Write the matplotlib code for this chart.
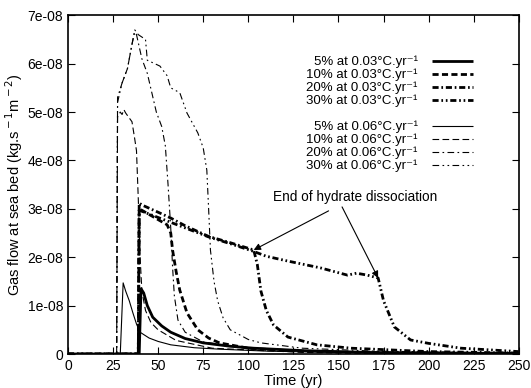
import numpy as np
import matplotlib
matplotlib.use('Agg')
import matplotlib.pyplot as plt
from matplotlib.lines import Line2D
from matplotlib.ticker import FuncFormatter

plt.rcParams['font.family'] = ['Liberation Sans', 'DejaVu Sans']

# values, flow in units of 1e-08 kg.s-1.m-2
t5_003 = [0, 39.5, 40.5, 42, 44, 47, 52, 57, 65, 75, 90, 103, 130, 170, 250]
y5_003 = [0, 0, 1.35, 1.26, 1.0, 0.76, 0.58, 0.45, 0.32, 0.23, 0.16, 0.12, 0.07, 0.03, 0.01]

t10_003 = [0, 39, 39.5, 41, 48, 55, 57, 58, 60, 62, 66, 72, 78, 84, 100, 130, 180, 250]
y10_003 = [0, 0, 3.0, 2.97, 2.82, 2.67, 2.5, 2.15, 1.7, 1.32, 0.85, 0.5, 0.33, 0.23, 0.12, 0.05, 0.02, 0.01]

t20_003 = [0, 39, 39.5, 41, 50, 57, 65, 78, 90, 103, 105, 107, 110, 114, 122, 138, 157, 200, 250]
y20_003 = [0, 0, 3.12, 3.08, 2.93, 2.81, 2.65, 2.43, 2.3, 2.15, 1.85, 1.3, 0.9, 0.6, 0.35, 0.19, 0.12, 0.05, 0.02]

t30_003 = [0, 39, 39.5, 41, 55, 78, 90, 103, 110, 122, 140, 155, 160, 166, 172, 175, 181, 190, 200, 218, 250]
y30_003 = [0, 0, 2.97, 2.95, 2.75, 2.42, 2.28, 2.12, 2.02, 1.92, 1.78, 1.63, 1.67, 1.63, 1.57, 1.1, 0.56, 0.29, 0.22, 0.12, 0.05]

t5_006 = [0, 29, 30.6, 32, 34, 36, 38, 40, 45, 50, 57, 70, 84, 110, 150, 250]
y5_006 = [0, 0, 1.47, 1.3, 1.1, 0.85, 0.62, 0.45, 0.33, 0.26, 0.19, 0.13, 0.1, 0.06, 0.03, 0.01]

t10_006 = [0, 27, 27.5, 29, 30, 31, 32, 35.5, 37, 38, 39, 40, 41, 43, 46, 50, 60, 80, 120, 250]
y10_006 = [0, 0, 4.9, 5.0, 4.95, 5.05, 4.98, 4.8, 4.45, 4.2, 3.2, 2.0, 1.3, 0.9, 0.65, 0.5, 0.28, 0.12, 0.05, 0.01]

t20_006 = [0, 27, 27.5, 30, 33, 35.5, 37, 38, 41, 44, 49, 52, 54, 55.5, 57, 58, 59, 61, 65, 75, 100, 150, 250]
y20_006 = [0, 0, 5.3, 5.6, 5.9, 6.4, 6.65, 6.6, 6.1, 5.8, 5.0, 4.7, 4.3, 3.5, 2.6, 1.8, 1.2, 0.7, 0.45, 0.25, 0.12, 0.05, 0.02]

t30_006 = [0, 27, 27.5, 30, 33, 35.5, 37, 39, 41, 43, 44, 47, 51, 55, 57, 62, 66, 72, 75, 77, 78, 79, 81, 83, 86, 90, 100, 107, 130, 170, 250]
y30_006 = [0, 0, 5.2, 5.6, 5.9, 6.4, 6.7, 6.6, 6.55, 6.5, 6.07, 6.02, 5.95, 5.75, 5.5, 5.4, 4.98, 4.57, 4.26, 3.8, 3.0, 2.15, 1.5, 1.1, 0.75, 0.5, 0.3, 0.23, 0.12, 0.06, 0.02]

labels = ['5% at 0.03', '10% at 0.03', '20% at 0.03', '30% at 0.03',
          '5% at 0.06', '10% at 0.06', '20% at 0.06', '30% at 0.06']

solid = (0, ())
dash = (0, (2.2, 1.2))
dashdot = (0, (2.2, 1.0, 0.6, 1.0))
dashdotdot = (0, (2.2, 1.0, 0.6, 1.0, 0.6, 1.0))

series = [
    (t5_003, y5_003, solid, 2.0),
    (t10_003, y10_003, dash, 2.0),
    (t20_003, y20_003, dashdot, 2.0),
    (t30_003, y30_003, dashdotdot, 2.0),
    (t5_006, y5_006, solid, 0.8),
    (t10_006, y10_006, (0, (6, 3)), 0.8),
    (t20_006, y20_006, (0, (6, 3, 1.5, 3)), 0.8),
    (t30_006, y30_006, (0, (6, 3, 1.5, 3, 1.5, 3)), 0.8),
]

fig = plt.figure(figsize=(5.31, 3.88), dpi=100)
ax = fig.add_axes([0.128, 0.0876, 0.849, 0.873])

handles = []
for (t, y, ls, lw), lab in zip(series, labels):
    h, = ax.plot(t, np.array(y) * 1e-8, color='black', linestyle=ls, linewidth=lw,
                 label=lab + '°C.yr⁻¹')
    handles.append(h)

blank = Line2D([], [], color='none')
leg_handles = handles[:4] + [blank] + handles[4:]
leg_labels = [h.get_label() for h in handles[:4]] + [' '] + [h.get_label() for h in handles[4:]]
ax.legend(leg_handles, leg_labels, loc='upper right', bbox_to_anchor=(0.913, 0.9),
          frameon=False, markerfirst=False, fontsize=9.5, labelspacing=0.04,
          handlelength=3.1, handletextpad=1.1, borderpad=0)

ax.annotate('End of hydrate dissociation', xy=(103, 2.15e-8), xytext=(159, 3.24e-8),
            ha='center', va='center', fontsize=9.8,
            arrowprops=dict(arrowstyle='-|>', color='black', lw=0.8,
                            shrinkA=6, shrinkB=0, mutation_scale=10))
ax.annotate('', xy=(172, 1.57e-8), xytext=(152, 3.04e-8),
            arrowprops=dict(arrowstyle='-|>', color='black', lw=0.8,
                            shrinkA=0, shrinkB=0, mutation_scale=10))

ax.set_xlim(0, 250)
ax.set_ylim(0, 7e-8)
ax.set_xticks(np.arange(0, 251, 25))
ax.set_yticks(np.arange(0, 7.01e-8, 1e-8))
ax.yaxis.set_major_formatter(FuncFormatter(lambda v, p: '0' if abs(v) < 1e-12 else '%.0e' % v))
ax.tick_params(direction='in', top=True, right=True, length=5, labelsize=10)
ax.yaxis.offsetText.set_visible(False)
for s in ax.spines.values():
    s.set_linewidth(1.2)

ax.set_xlabel('Time (yr)', fontsize=10.5, labelpad=1)
ax.set_ylabel(r'Gas flow at sea bed (kg.s$^{\rm -1}$m$^{\rm -2}$)', fontsize=10.5, labelpad=2)

fig.savefig('out.png', dpi=100)
